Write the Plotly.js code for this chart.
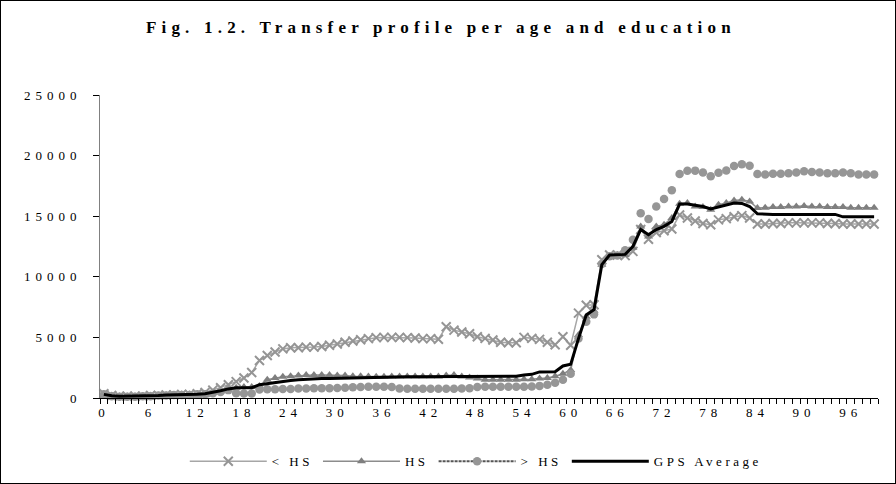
<!DOCTYPE html>
<html><head><meta charset="utf-8">
<script src="https://cdn.plot.ly/plotly-3.0.1.min.js"></script>
<style>
body{margin:0;background:#fff}
#chart{width:894px;height:482px;border:1px solid #000}
.gtitle{letter-spacing:5.2px}
.xtick text,.ytick text{letter-spacing:5px}
.legendtext{letter-spacing:3.5px}
.scatterlayer g.trace:nth-of-type(3) path.js-line{stroke-opacity:0 !important}
</style></head><body><div id="chart"></div>
<script>
const ages = [0,1,2,3,4,5,6,7,8,9,10,11,12,13,14,15,16,17,18,19,20,21,22,23,24,25,26,27,28,29,30,31,32,33,34,35,36,37,38,39,40,41,42,43,44,45,46,47,48,49,50,51,52,53,54,55,56,57,58,59,60,61,62,63,64,65,66,67,68,69,70,71,72,73,74,75,76,77,78,79,80,81,82,83,84,85,86,87,88,89,90,91,92,93,94,95,96,97,98,99];
const xTickVals = [0,6,12,18,24,30,36,42,48,54,60,66,72,78,84,90,96];
const yTickVals = [0,5000,10000,15000,20000,25000];

const lessHS = [350,200,150,150,150,150,200,200,250,250,300,300,350,450,650,850,1100,1350,1650,2100,3100,3500,3800,4050,4150,4150,4200,4200,4250,4350,4450,4600,4700,4800,4900,4980,5000,5000,5000,4980,4950,4900,4900,4850,5880,5600,5450,5300,5060,4920,4780,4600,4560,4560,5000,4920,4840,4600,4400,5060,4350,7000,7650,7700,11400,11800,11800,11750,12100,13900,13100,13650,13800,13950,15100,14850,14600,14400,14300,14700,14800,14950,15050,14850,14350,14350,14400,14400,14450,14450,14450,14450,14450,14400,14400,14350,14350,14350,14350,14350];
const hs = [300,200,150,150,150,150,200,200,250,250,300,300,300,350,450,550,700,850,900,900,1000,1500,1650,1750,1800,1850,1900,1900,1900,1900,1850,1850,1800,1800,1780,1760,1760,1780,1780,1780,1780,1780,1780,1780,1850,1900,1780,1700,1600,1500,1500,1500,1500,1500,1550,1550,1600,1650,1800,2000,2300,5200,6700,7200,11000,11700,11800,11800,12400,14160,13330,14160,14300,14850,16030,16090,15810,15760,15530,15950,16090,16300,16360,16220,15680,15700,15750,15750,15800,15800,15850,15800,15800,15750,15750,15750,15700,15700,15700,15700];
const moreHS = [300,150,100,100,100,150,150,200,200,250,250,250,300,300,400,500,650,400,380,380,700,720,720,750,750,780,780,800,800,800,820,850,880,900,920,930,930,900,780,760,760,760,760,760,760,760,780,800,900,930,930,930,930,930,930,950,1000,1100,1250,1500,2000,4900,6300,6900,11050,11700,11750,12200,13060,15250,14770,15800,16420,17150,18490,18750,18760,18610,18300,18580,18780,19150,19280,19160,18480,18450,18500,18500,18550,18600,18700,18650,18600,18550,18550,18600,18550,18450,18450,18450];
const gpsAvg = [300,180,150,150,150,150,200,200,250,250,300,300,300,350,450,600,750,850,850,850,1100,1200,1300,1400,1450,1500,1550,1600,1600,1600,1620,1640,1650,1660,1680,1700,1750,1750,1750,1750,1750,1750,1750,1750,1750,1750,1750,1750,1760,1760,1760,1760,1760,1800,1900,1950,2150,2170,2170,2640,2780,4900,6850,7300,11000,11800,11850,11850,12500,13900,13470,13900,14160,14570,16000,16000,15900,15800,15600,15760,15870,16090,16050,15800,15200,15150,15150,15150,15150,15150,15150,15150,15150,15150,15150,14950,14950,14950,14950,14950];

const seriesNames = ['< HS','HS','> HS','GPS Average'];
const font = 'Liberation Serif, Times New Roman, serif';

const traces = [
  {x: ages, y: lessHS, name: seriesNames[0], type: 'scatter', mode: 'lines+markers', cliponaxis: false,
   line: {color: '#a6a6a6', width: 1.5},
   marker: {symbol: 'x-thin', size: 9, color: '#959595', line: {color: '#959595', width: 2}}},
  {x: ages, y: hs, name: seriesNames[1], type: 'scatter', mode: 'lines+markers', cliponaxis: false,
   line: {color: '#8c8c8c', width: 1.5},
   marker: {symbol: 'triangle-up', size: 8, color: '#7f7f7f'}},
  {x: ages, y: moreHS, name: seriesNames[2], type: 'scatter', mode: 'lines+markers', cliponaxis: false,
   line: {color: '#555555', width: 2, dash: '3px,1px'},
   marker: {symbol: 'circle', size: 8.5, color: '#969696'}},
  {x: ages, y: gpsAvg, name: seriesNames[3], type: 'scatter', mode: 'lines', cliponaxis: false,
   line: {color: '#000000', width: 3}}
];

const layout = {
  width: 894, height: 482,
  margin: {l: 99, r: 17, t: 94, b: 85},
  paper_bgcolor: '#fff', plot_bgcolor: '#fff',
  font: {family: font, size: 13, color: '#000'},
  title: {text: '<b>Fig. 1.2. Transfer profile per age and education</b>', font: {family: font, size: 17, color: '#000'},
          x: 0.492, xanchor: 'center', yref: 'container', y: 0.946, yanchor: 'middle'},
  showlegend: true,
  legend: {orientation: 'h', x: 0.483, xanchor: 'center', yref: 'container', y: 0.045, yanchor: 'middle',
           font: {family: font, size: 13, color: '#000'}, itemwidth: 77, traceorder: 'normal'},
  xaxis: {range: [-0.5, 99.5], tickmode: 'array', tickvals: xTickVals, ticktext: xTickVals.map(String),
          ticks: '', showgrid: false, zeroline: false, showline: true, linecolor: '#000', linewidth: 1,
          ticklabelstandoff: 2,
          tickfont: {family: font, size: 13, color: '#000'},
          minor: {tickmode: 'linear', tick0: -0.5, dtick: 1, ticks: 'outside', ticklen: 5, tickcolor: '#000', tickwidth: 1, showgrid: false}},
  yaxis: {range: [0, 25000], tickmode: 'array', tickvals: yTickVals, ticktext: yTickVals.map(String),
          ticks: 'outside', ticklen: 6, tickcolor: '#000', tickwidth: 1, showgrid: false, zeroline: false,
          showline: true, linecolor: '#808080', linewidth: 1, ticklabelstandoff: 9,
          tickfont: {family: font, size: 13, color: '#000'}}
};

Plotly.newPlot('chart', traces, layout, {displayModeBar: false, staticPlot: true});
</script></body></html>
